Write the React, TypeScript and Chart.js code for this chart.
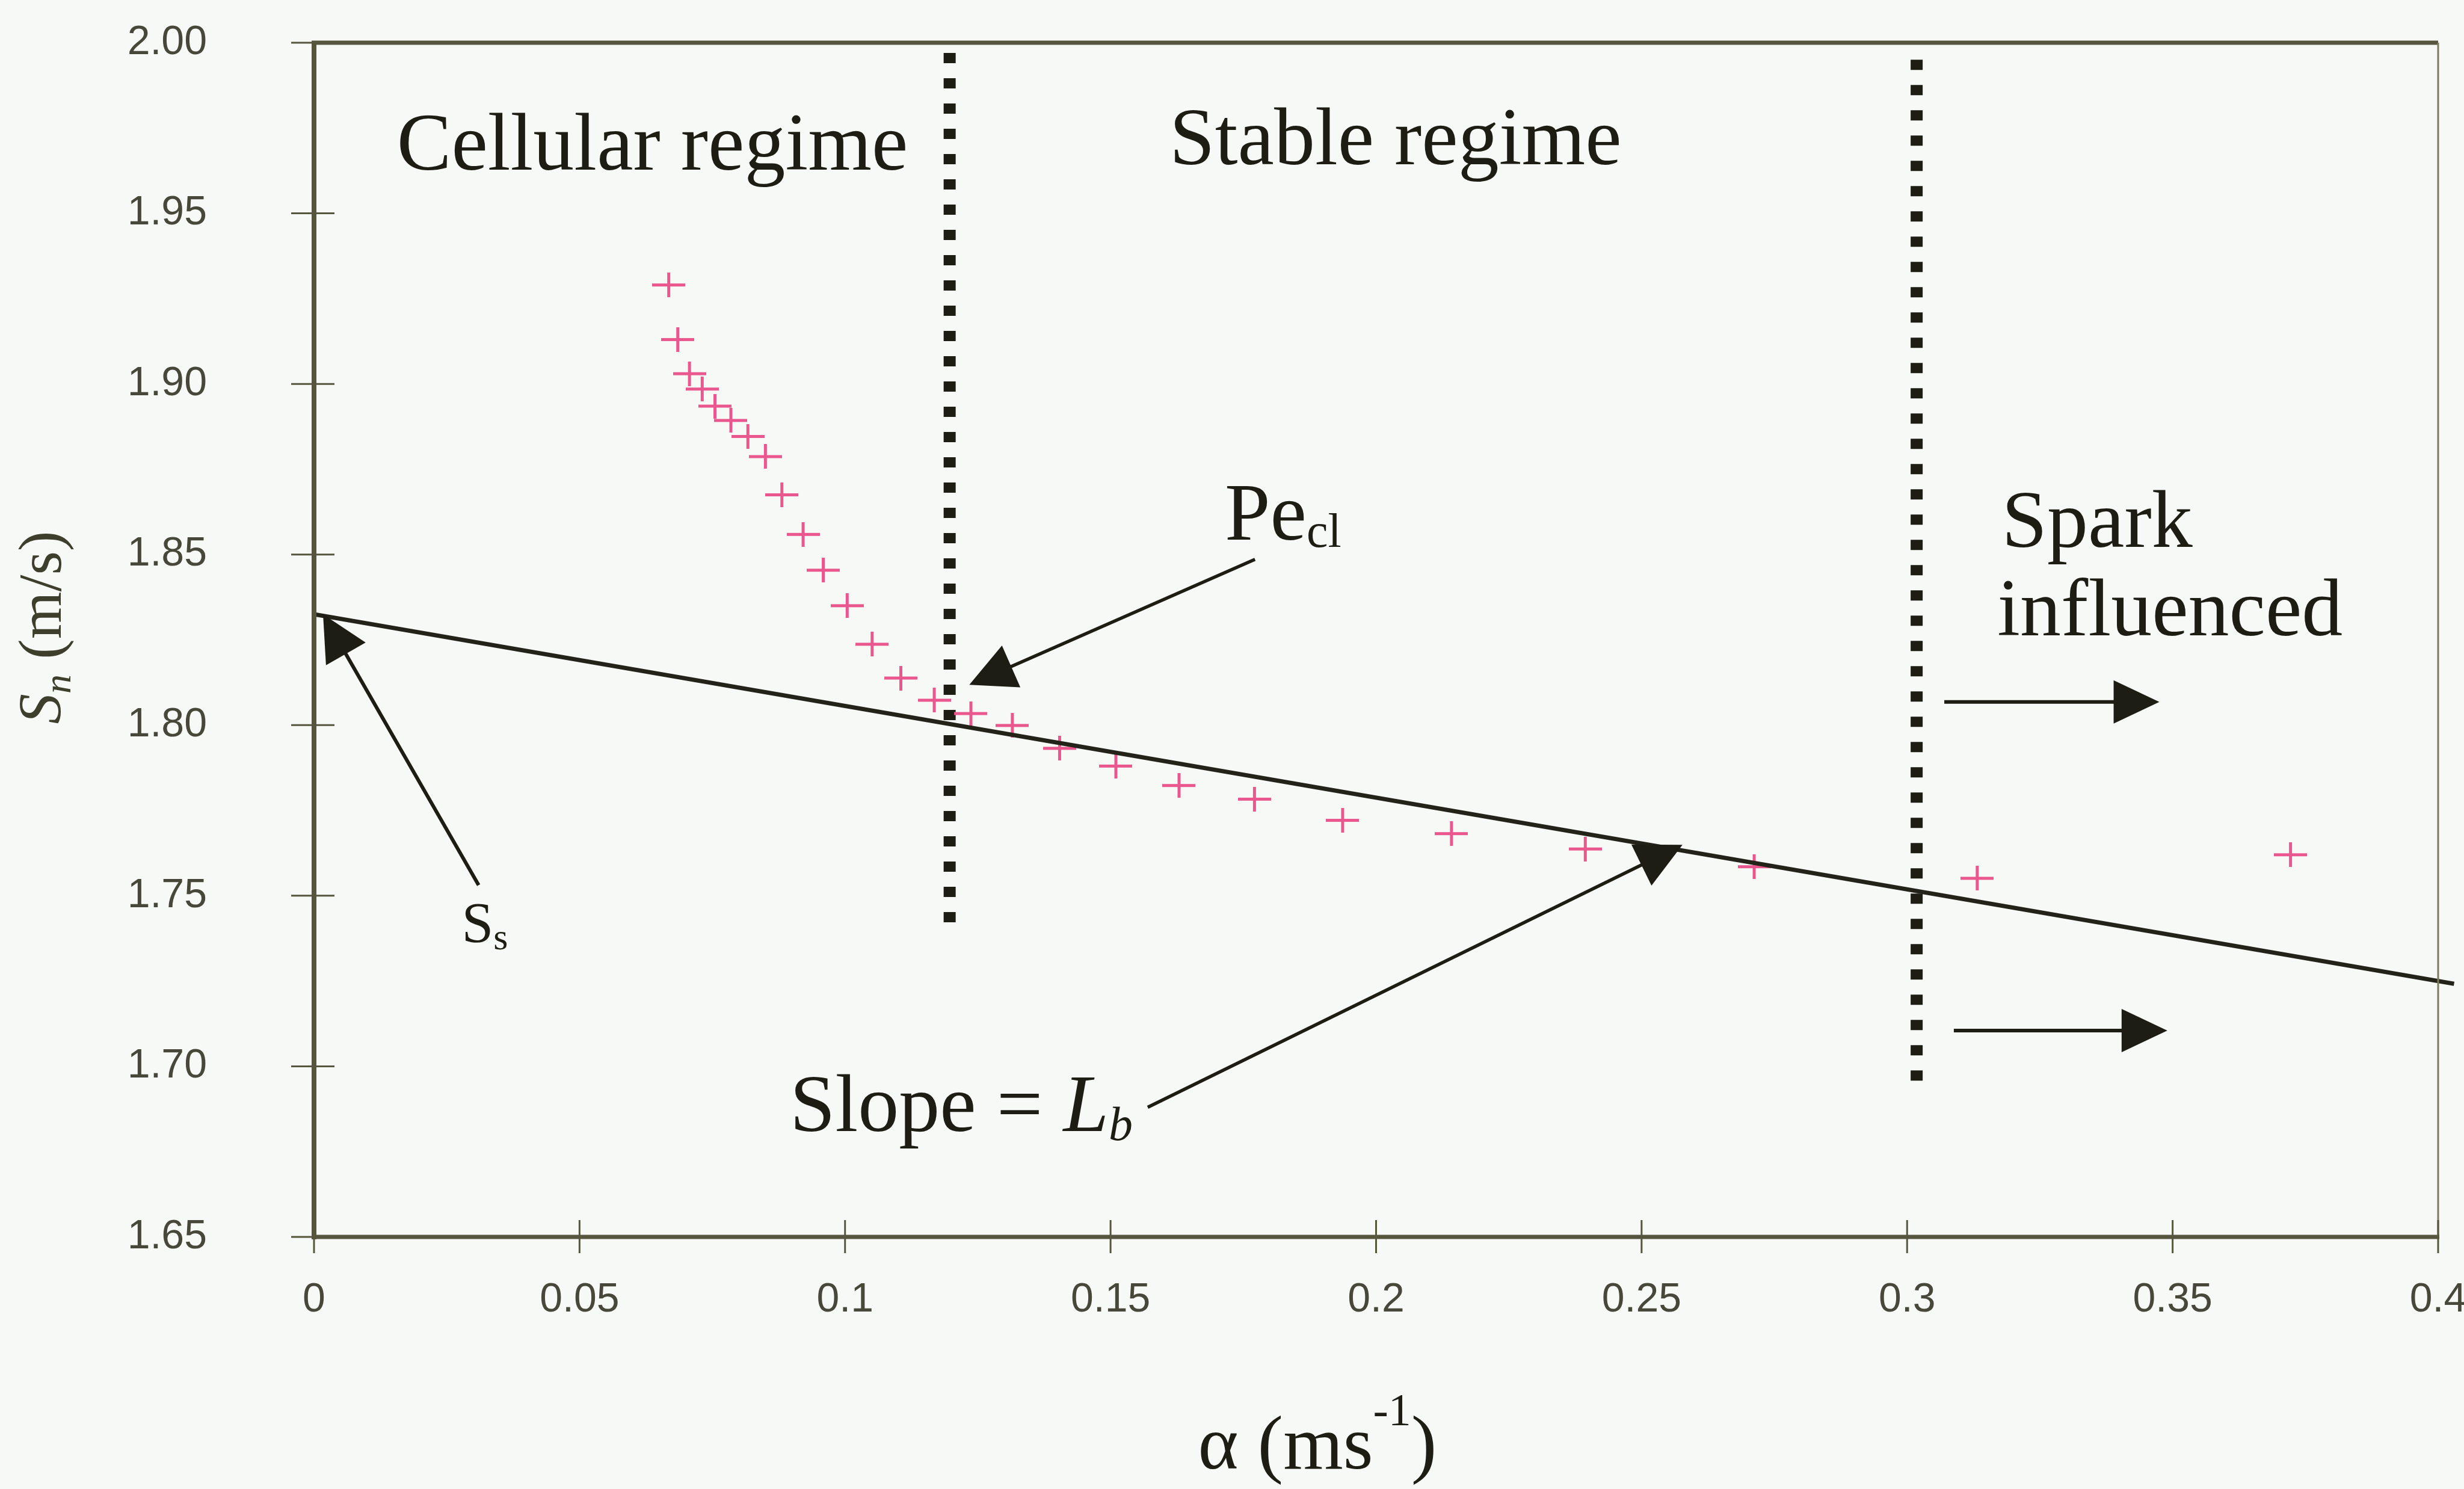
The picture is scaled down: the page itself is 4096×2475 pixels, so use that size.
import React, { useEffect, useRef } from 'react';
import { Chart, registerables } from 'chart.js';

Chart.register(...registerables);

// ---------- data ----------
const alphaValues: number[] = [
  0.0668, 0.0685, 0.0707, 0.0731, 0.0755, 0.0785, 0.0817, 0.085, 0.0881, 0.0921,
  0.0959, 0.1004, 0.1051, 0.1105, 0.1168, 0.1237, 0.1315, 0.1404, 0.151, 0.1629,
  0.1771, 0.1937, 0.2142, 0.2394, 0.2712, 0.3132, 0.3722,
];
const snValues: number[] = [
  1.929, 1.913, 1.903, 1.8985, 1.8935, 1.8893, 1.8846, 1.8787, 1.8675, 1.8559,
  1.8454, 1.835, 1.8237, 1.8138, 1.8073, 1.8034, 1.7999, 1.7932, 1.788, 1.7823,
  1.7783, 1.7721, 1.7682, 1.7637, 1.7585, 1.7551, 1.762,
];
const fitAlpha: number[] = [0, 0.403];
const fitSn: number[] = [1.8325, 1.7242];
const boundaryAlpha: number[] = [0.1197, 0.3018];
const boundaryTop: number[] = [1.997, 1.995];
const boundaryBottom: number[] = [1.74, 1.695];
const xTickLabels: string[] = ['0', '0.05', '0.1', '0.15', '0.2', '0.25', '0.3', '0.35', '0.4'];
const yTickLabels: string[] = ['1.65', '1.70', '1.75', '1.80', '1.85', '1.90', '1.95', '2.00'];

// ---------- layout / style ----------
const W = 4096;
const H = 2475;
const PLOT_LEFT = 522;
const PLOT_RIGHT = 4053;
const PLOT_TOP = 71;
const PLOT_BOTTOM = 2056;
const BG = '#f7f9f6';
const AXIS = '#56563f';
const TICK_TXT = '#47473a';
const INK = '#1d1d14';
const PINK = '#e9578e';
const SERIF = '"Liberation Serif", "Times New Roman", serif';
const SANS = '"Liberation Sans", Arial, sans-serif';
const REGION_FONT = 136;

type Part = { t: string; font: string; dy?: number };

function drawRich(ctx: CanvasRenderingContext2D, x: number, y: number, parts: Part[], center = false) {
  let total = 0;
  for (const p of parts) { ctx.font = p.font; total += ctx.measureText(p.t).width; }
  let cx = center ? x - total / 2 : x;
  for (const p of parts) {
    ctx.font = p.font;
    ctx.fillText(p.t, cx, y + (p.dy || 0));
    cx += ctx.measureText(p.t).width;
  }
}

function drawArrow(ctx: CanvasRenderingContext2D, x1: number, y1: number, x2: number, y2: number, head: number, half: number, lw: number) {
  const dx = x2 - x1, dy = y2 - y1;
  const len = Math.hypot(dx, dy);
  const ux = dx / len, uy = dy / len;
  const bx = x2 - ux * head, by = y2 - uy * head;
  ctx.lineWidth = lw;
  ctx.beginPath();
  ctx.moveTo(x1, y1);
  ctx.lineTo(bx + ux * 4, by + uy * 4);
  ctx.stroke();
  ctx.beginPath();
  ctx.moveTo(x2, y2);
  ctx.lineTo(bx - uy * half, by + ux * half);
  ctx.lineTo(bx + uy * half, by - ux * half);
  ctx.closePath();
  ctx.fill();
}

const annotPlugin = {
  id: 'annot',
  beforeDraw(chart: any) {
    const ctx = chart.ctx;
    ctx.save();
    ctx.fillStyle = BG;
    ctx.fillRect(0, 0, chart.width, chart.height);
    ctx.restore();
  },
  afterDatasetsDraw(chart: any) {
    const ctx: CanvasRenderingContext2D = chart.ctx;
    const a = chart.chartArea;
    const xs = chart.scales.x, ys = chart.scales.y;
    const px = (v: number) => xs.getPixelForValue(v);
    const py = (v: number) => ys.getPixelForValue(v);
    ctx.save();

    // frame
    ctx.strokeStyle = AXIS;
    ctx.lineWidth = 7;
    ctx.beginPath(); ctx.moveTo(a.left - 4, a.top); ctx.lineTo(a.right, a.top); ctx.stroke();
    ctx.beginPath(); ctx.moveTo(a.left - 4, a.bottom); ctx.lineTo(a.right + 2, a.bottom); ctx.stroke();
    ctx.lineWidth = 8;
    ctx.beginPath(); ctx.moveTo(a.left, a.top); ctx.lineTo(a.left, a.bottom + 4); ctx.stroke();
    ctx.strokeStyle = '#7d7d5c';
    ctx.lineWidth = 3;
    ctx.beginPath(); ctx.moveTo(a.right, a.top); ctx.lineTo(a.right, a.bottom); ctx.stroke();

    // crossing tick marks
    ctx.strokeStyle = AXIS;
    ctx.lineWidth = 3;
    for (const t of ys.ticks) {
      const yy = py(t.value);
      ctx.beginPath(); ctx.moveTo(a.left - 38, yy); ctx.lineTo(a.left + 34, yy); ctx.stroke();
    }
    for (const t of xs.ticks) {
      const xx = px(t.value);
      ctx.beginPath(); ctx.moveTo(xx, a.bottom - 28); ctx.lineTo(xx, a.bottom + 27); ctx.stroke();
    }

    // arrows
    ctx.strokeStyle = INK;
    ctx.fillStyle = INK;
    drawArrow(ctx, px(0.031), py(1.7531), px(0.0017), py(1.8325), 76, 38, 6);
    drawArrow(ctx, px(0.1772), py(1.8486), px(0.1234), py(1.8118), 76, 38, 5.5);
    drawArrow(ctx, px(0.157), py(1.688), px(0.2577), py(1.7649), 76, 38, 5.5);
    drawArrow(ctx, px(0.307), py(1.8068), px(0.3475), py(1.8068), 76, 36, 6);
    drawArrow(ctx, px(0.3088), py(1.7105), px(0.349), py(1.7105), 76, 36, 6);

    // region / annotation texts
    ctx.fillStyle = INK;
    ctx.textBaseline = 'alphabetic';
    ctx.textAlign = 'left';
    const rf = `${REGION_FONT}px ${SERIF}`;
    drawRich(ctx, px(0.0156), py(1.9628), [{ t: 'Cellular regime', font: rf }]);
    drawRich(ctx, px(0.1611), py(1.9644), [{ t: 'Stable regime', font: rf }]);
    drawRich(ctx, px(0.3178), py(1.8522), [{ t: 'Spark', font: rf }]);
    drawRich(ctx, px(0.317), py(1.8263), [{ t: 'influenced', font: rf }]);
    drawRich(ctx, px(0.1715), py(1.8544), [
      { t: 'Pe', font: rf },
      { t: 'cl', font: `80px ${SERIF}`, dy: 12 },
    ]);
    drawRich(ctx, px(0.0896), py(1.681), [
      { t: 'Slope = ', font: rf },
      { t: 'L', font: `italic ${REGION_FONT}px ${SERIF}` },
      { t: 'b', font: `italic 80px ${SERIF}`, dy: 15 },
    ]);
    drawRich(ctx, px(0.0278), py(1.7364), [
      { t: 'S', font: `95px ${SERIF}` },
      { t: 's', font: `62px ${SERIF}`, dy: 12 },
    ]);

    // x axis title
    drawRich(ctx, 2190, 2441, [
      { t: '\u03b1 (ms', font: `128px ${SERIF}` },
      { t: '-1', font: `76px ${SERIF}`, dy: -72 },
      { t: ')', font: `128px ${SERIF}` },
    ], true);

    // y axis title
    ctx.save();
    ctx.translate(101, 1043);
    ctx.rotate(-Math.PI / 2);
    ctx.fillStyle = '#3e3e2c';
    drawRich(ctx, 0, 0, [
      { t: 'S', font: `italic 101px ${SERIF}` },
      { t: 'n', font: `italic 64px ${SERIF}`, dy: 16 },
      { t: ' (m/s)', font: `101px ${SERIF}` },
    ], true);
    ctx.restore();

    ctx.restore();
  },
};

export default function App() {
  const ref = useRef<HTMLCanvasElement>(null);

  useEffect(() => {
    const canvas = ref.current;
    if (!canvas) return;

    const cw = 55, ch = 41;
    const cross = document.createElement('canvas');
    cross.width = cw;
    cross.height = ch;
    const c = cross.getContext('2d')!;
    c.strokeStyle = PINK;
    c.lineWidth = 5;
    c.beginPath();
    c.moveTo(0, ch / 2); c.lineTo(cw, ch / 2);
    c.moveTo(cw / 2, 0); c.lineTo(cw / 2, ch);
    c.stroke();

    const points = alphaValues.map((x, i) => ({ x, y: snValues[i] }));
    const fit = fitAlpha.map((x, i) => ({ x, y: fitSn[i] }));
    const boundaries = boundaryAlpha.map((x, i) => ({
      type: 'scatter' as const,
      data: [{ x, y: boundaryTop[i] }, { x, y: boundaryBottom[i] }],
      showLine: true,
      borderColor: INK,
      borderWidth: 20,
      borderDash: [17, 25],
      borderCapStyle: 'butt' as const,
      pointRadius: 0,
      tension: 0,
    }));

    const chart = new Chart(canvas, {
      type: 'scatter',
      data: {
        datasets: [
          {
            data: fit,
            showLine: true,
            borderColor: '#23231a',
            borderWidth: 7,
            pointRadius: 0,
            tension: 0,
            clip: false as any,
          },
          {
            data: points,
            pointStyle: cross as any,
            pointRadius: 20,
            showLine: false,
          },
          ...boundaries,
        ] as any,
      },
      options: {
        responsive: false,
        animation: false,
        devicePixelRatio: 1,
        events: [],
        layout: { padding: { left: 0, top: PLOT_TOP, right: W - PLOT_RIGHT, bottom: 0 } },
        plugins: { legend: { display: false }, tooltip: { enabled: false } },
        scales: {
          x: {
            type: 'linear',
            position: 'bottom',
            min: 0,
            max: 0.4,
            afterFit: (s: any) => { s.height = H - PLOT_BOTTOM; s.paddingLeft = 0; s.paddingRight = 0; },
            grid: { display: false, drawTicks: false },
            border: { display: false },
            ticks: {
              stepSize: 0.05,
              autoSkip: false,
              maxRotation: 0,
              padding: 64,
              color: TICK_TXT,
              font: { family: SANS, size: 68 },
              callback: (_v: any, i: number) => xTickLabels[i],
            },
          },
          y: {
            type: 'linear',
            min: 1.65,
            max: 2.0,
            afterFit: (s: any) => { s.width = PLOT_LEFT; s.paddingTop = 0; s.paddingBottom = 0; },
            grid: { display: false, drawTicks: false },
            border: { display: false },
            ticks: {
              stepSize: 0.05,
              autoSkip: false,
              padding: 178,
              color: TICK_TXT,
              font: { family: SANS, size: 68 },
              callback: (_v: any, i: number) => yTickLabels[i],
            },
          },
        },
      } as any,
      plugins: [annotPlugin],
    });

    return () => chart.destroy();
  }, []);

  return (
    <div style={{ position: 'absolute', left: 0, top: 0, width: W, height: H, background: BG }}>
      <canvas ref={ref} width={W} height={H} style={{ display: 'block', width: W, height: H }} />
    </div>
  );
}
